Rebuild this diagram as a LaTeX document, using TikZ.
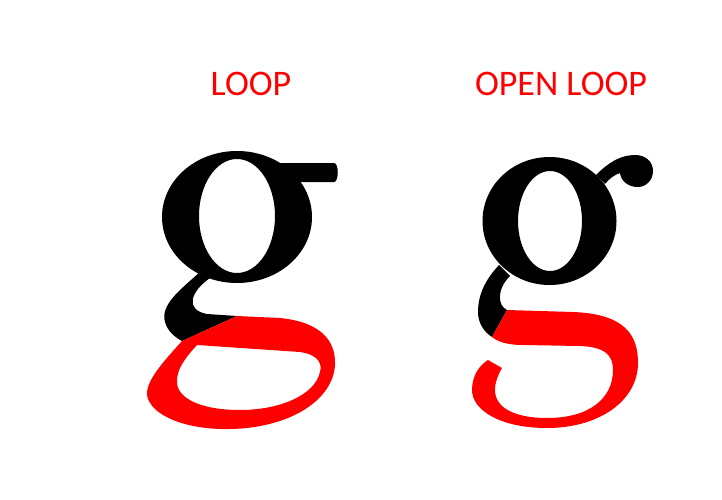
\documentclass[tikz,border=0pt]{standalone}
\usepackage{fontspec}
\setmainfont{Carlito}
\begin{document}
\begin{tikzpicture}[x=1pt,y=-1pt,
  lbl/.style={text=red,font=\fontsize{36}{40}\selectfont,inner sep=0pt},
  blk/.style={fill=black,draw=none},
  rd/.style={fill=red,draw=none,even odd rule}]
\useasboundingbox (0,0) rectangle (722,500);
\node[lbl] (t1) at (251,84) {LOOP};
\node[lbl] (t2) at (561,84) {OPEN LOOP};
% left g
\fill[blk,even odd rule] (237,217) ellipse [x radius=75,y radius=66] (237,216) ellipse [x radius=38,y radius=57];
\fill[blk] (280,163) -- (334,163) .. controls (339,163) and (339,182) .. (334,182) -- (300,182) -- (290,190) -- cycle;
\fill[blk] (200,272) .. controls (180,290) and (160,305) .. (165,322) .. controls (168,332) and (175,337) .. (182,341) -- (237,316) -- (207,314) .. controls (185,310) and (190,292) .. (210,278) -- cycle;
\fill[rd] (182,341) -- (237,316) -- (280,318) .. controls (320,322) and (336,340) .. (335,365) .. controls (333,400) and (290,428) .. (230,429) .. controls (185,430) and (150,415) .. (147,395) .. controls (146,380) and (165,360) .. (182,341) -- cycle
 (197,345) -- (300,352) .. controls (320,355) and (322,365) .. (320,372) .. controls (315,395) and (280,410) .. (240,410) .. controls (200,410) and (178,398) .. (177,383) .. controls (176,370) and (185,358) .. (197,345) -- cycle;
% right g
\fill[blk,even odd rule] (549.5,221) ellipse [x radius=67,y radius=64] (550,221) ellipse [x radius=32,y radius=50];
\fill[blk] (596,175) .. controls (608,163) and (620,155) .. (635,155) .. controls (646,155) and (653,162) .. (653,171) .. controls (653,180) and (646,187) .. (638,187) .. controls (628,187) and (621,181) .. (620,173) .. controls (614,175) and (609,179) .. (605,184) -- cycle;
\fill[blk] (499,265) .. controls (485,280) and (478,295) .. (478,312) .. controls (478,323) and (484,332) .. (492,337) -- (507,310) .. controls (498,306) and (496,290) .. (510,276) -- cycle;
\fill[rd] (507,310) -- (573,312) .. controls (625,314) and (638,335) .. (638,363) .. controls (638,400) and (600,428) .. (547,428) .. controls (500,428) and (472,410) .. (472,390) .. controls (472,375) and (480,365) .. (488,360) -- (502,368) .. controls (498,375) and (495,382) .. (495,390) .. controls (495,408) and (515,418) .. (547,418) .. controls (590,418) and (613,398) .. (613,370) .. controls (613,355) and (605,347) .. (580,346) -- (523,345) .. controls (508,345) and (498,342) .. (492,337) -- cycle;
\end{tikzpicture}
\end{document}
